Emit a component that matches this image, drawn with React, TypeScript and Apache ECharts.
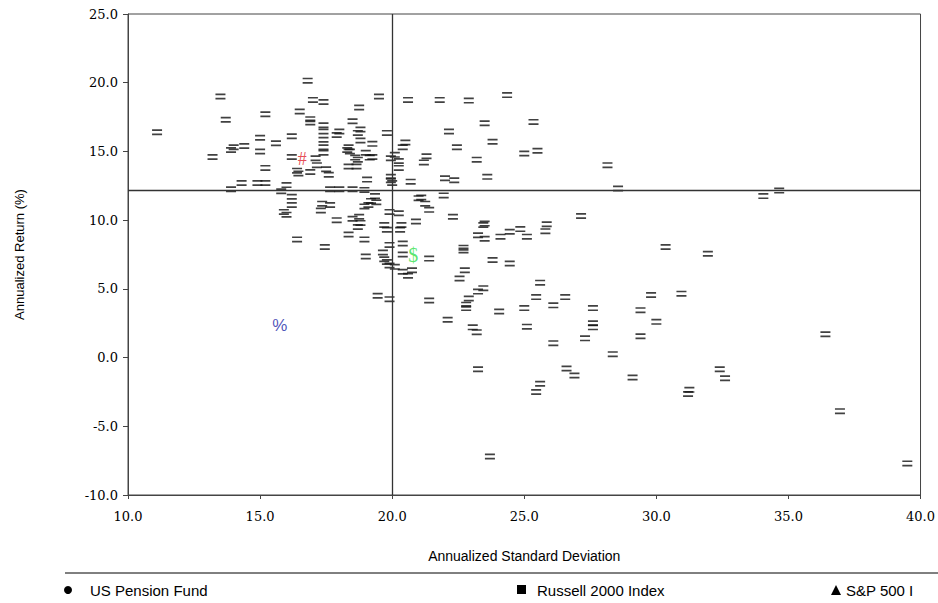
import React, { useEffect, useRef } from "react";
import * as echarts from "echarts";

// Peer universe: [annualized standard deviation, annualized return]
const peerLeft: [number, number][] = [
  [11.1, 16.4], [13.5, 19.0], [13.7, 17.3], [13.2, 14.6], [14.0, 15.3], [13.9, 15.1],
  [14.4, 15.4], [15.2, 17.7], [15.0, 16.0], [15.0, 15.0], [15.6, 15.6], [15.2, 13.8],
  [14.3, 12.7], [13.9, 12.25], [14.9, 12.7], [15.2, 12.7], [16.2, 16.1], [16.2, 14.6],
  [16.4, 13.6], [16.5, 17.9], [15.8, 12.1], [16.0, 12.55], [16.2, 11.7], [16.2, 11.1],
  [15.9, 10.6], [16.0, 10.4], [16.4, 8.6], [17.45, 8.05],
];

const peerCenter: [number, number][] = [
  [16.8, 20.15], [17.0, 18.75], [17.4, 18.6], [16.9, 17.35], [16.9, 17.1], [17.4, 16.9],
  [17.4, 16.45], [18.0, 16.45], [17.9, 16.2], [17.4, 15.85], [17.4, 15.3], [17.4, 14.9],
  [17.1, 14.5], [17.15, 14.0], [17.5, 13.7], [17.6, 13.3], [16.9, 13.5], [16.45, 13.4],
  [18.75, 18.2], [18.5, 17.2], [18.8, 16.6], [18.7, 16.35], [19.8, 16.35], [19.5, 19.0],
  [20.6, 18.75], [21.8, 18.75], [22.9, 18.7], [22.15, 16.45], [22.45, 15.3], [20.5, 15.65],
  [20.4, 15.3], [21.3, 14.65], [21.2, 14.2], [18.8, 15.8], [19.25, 15.55], [18.35, 15.3],
  [18.4, 15.0], [19.0, 14.9], [19.15, 14.55], [18.7, 14.4], [18.35, 13.9], [18.65, 13.9],
  [20.1, 14.75], [20.25, 14.3], [20.25, 13.8], [19.95, 13.15], [20.0, 12.7], [20.7, 12.8],
  [22.0, 13.05], [22.35, 12.9], [19.05, 12.95], [17.65, 12.25], [18.0, 12.25], [18.5, 12.25],
  [18.95, 12.2], [19.35, 11.75], [21.1, 11.65], [21.95, 11.8], [19.95, 14.5], [19.95, 12.9],
  [18.6, 14.55], [19.25, 14.6], [18.3, 15.1],
];

const peerBelow: [number, number][] = [
  [17.35, 11.2], [17.65, 11.1], [17.3, 10.7], [17.9, 10.0], [18.75, 10.25], [18.7, 9.5],
  [18.35, 8.95], [18.95, 8.6], [19.0, 7.35], [19.45, 4.5], [19.9, 4.25], [21.0, 11.6],
  [21.25, 11.2], [21.4, 10.75], [20.9, 9.9], [22.3, 10.25], [19.1, 11.1], [19.2, 11.4],
  [19.4, 11.3], [19.9, 10.6], [20.25, 10.5], [19.7, 9.65], [19.8, 9.3], [20.35, 9.65],
  [20.3, 9.3], [19.9, 8.2], [20.4, 8.3], [19.65, 7.65], [19.7, 7.15], [20.4, 7.5],
  [19.8, 6.95], [19.9, 6.7], [20.1, 6.6], [20.4, 6.25], [20.6, 5.95], [20.75, 6.35],
  [21.4, 7.2], [22.7, 8.0], [22.7, 7.8], [22.75, 6.35], [22.55, 5.75], [21.4, 4.15],
  [22.1, 2.75], [23.05, 2.2], [23.2, 1.85], [23.45, 9.65], [23.45, 5.05], [23.25, 4.8],
  [22.9, 4.3], [22.8, 3.85], [22.8, 3.6], [23.8, 7.1], [24.1, 8.8], [18.5, 10.1],
  [18.8, 9.8], [18.95, 11.0],
];

const peerRight: [number, number][] = [
  [24.35, 19.1], [23.5, 17.05], [25.35, 17.15], [23.8, 15.7], [23.2, 14.4], [25.0, 14.85],
  [25.5, 15.05], [23.6, 13.15], [28.15, 14.0], [28.55, 12.3], [34.05, 11.75], [34.65, 12.15],
  [23.5, 9.75], [23.25, 8.9], [23.5, 8.65], [24.45, 9.15], [24.85, 9.35], [25.1, 8.8],
  [25.85, 9.7], [25.8, 9.2], [27.15, 10.3], [30.35, 8.05], [31.95, 7.55], [24.45, 6.85],
  [25.6, 5.45], [25.45, 4.4], [26.55, 4.4], [29.8, 4.55], [30.95, 4.65], [26.1, 3.8],
  [24.05, 3.35], [25.0, 3.6], [25.1, 2.25], [27.6, 3.6], [27.6, 2.5], [27.6, 2.2],
  [26.1, 1.05], [27.3, 1.4], [28.35, 0.25], [29.4, 3.45], [30.0, 2.6], [29.4, 1.55],
  [23.25, -0.85], [26.6, -0.8], [26.9, -1.3], [25.6, -1.9], [25.45, -2.5], [29.1, -1.45],
  [32.4, -0.85], [32.6, -1.5], [31.25, -2.35], [31.2, -2.65], [36.4, 1.7], [36.95, -3.9],
  [23.7, -7.2], [39.5, -7.7],
];

const pensionFund: [number, number][] = [[16.6, 14.45]];
const russell2000: [number, number][] = [[20.8, 7.45]];
const sp500: [number, number][] = [[15.75, 2.35]];

const meanStdDev = [20.0];
const meanReturn = [12.2];

const legendNames = ["US Pension Fund", "Russell 2000 Index", "S&P 500 Index"];

const EQ_PATH = "path://M0,0H10V1.7H0Z M0,4.3H10V6H0Z";

export default function App() {
  const ref = useRef<HTMLDivElement>(null);

  useEffect(() => {
    if (!ref.current) return;
    const chart = echarts.init(ref.current, undefined, { renderer: "svg" });
    const peers = [...peerLeft, ...peerCenter, ...peerBelow, ...peerRight];
    const tickFont = { fontFamily: "DejaVu Serif", fontSize: 13, color: "#000" };
    const legendFont = { fontFamily: "Liberation Sans", fontSize: 15, fill: "#000", verticalAlign: "middle" };
    const glyphSeries = (data: [number, number][], glyph: string, color: string, size: number, family: string) => ({
      type: "scatter",
      data,
      symbolSize: 1,
      itemStyle: { color: "rgba(0,0,0,0)" },
      z: 5,
      label: {
        show: true,
        position: "inside",
        formatter: glyph,
        color,
        fontSize: size,
        fontFamily: family,
      },
    });

    chart.setOption({
      animation: false,
      backgroundColor: "#fff",
      grid: {
        left: 128,
        right: 17,
        top: 14,
        bottom: 108,
        show: true,
        borderColor: "#444",
        borderWidth: 1,
        backgroundColor: "transparent",
      },
      xAxis: {
        type: "value",
        min: 10,
        max: 40,
        interval: 5,
        name: "Annualized Standard Deviation",
        nameLocation: "middle",
        nameGap: 54,
        nameTextStyle: { fontFamily: "Liberation Sans", fontSize: 14, color: "#000" },
        axisLine: { show: true, onZero: false, lineStyle: { color: "#444" } },
        axisTick: { show: true, length: 4, lineStyle: { color: "#444" } },
        axisLabel: { ...tickFont, margin: 15, formatter: (v: number) => v.toFixed(1) },
        splitLine: { show: false },
      },
      yAxis: {
        type: "value",
        min: -10,
        max: 25,
        interval: 5,
        name: "Annualized Return (%)",
        nameLocation: "middle",
        nameGap: 102,
        nameTextStyle: { fontFamily: "Liberation Sans", fontSize: 13, color: "#000" },
        axisLine: { show: true, onZero: false, lineStyle: { color: "#444" } },
        axisTick: { show: true, length: 5, lineStyle: { color: "#444" } },
        axisLabel: { ...tickFont, margin: 10, formatter: (v: number) => v.toFixed(1) },
        splitLine: { show: false },
      },
      series: [
        {
          type: "scatter",
          data: peers,
          symbol: EQ_PATH,
          symbolSize: [10, 6],
          itemStyle: { color: "#111" },
          z: 3,
          markLine: {
            silent: true,
            symbol: ["none", "none"],
            label: { show: false },
            lineStyle: { color: "#333", width: 1.3, type: "solid" },
            data: [{ xAxis: meanStdDev[0] }, { yAxis: meanReturn[0] }],
          },
        },
        glyphSeries(pensionFund, "#", "#e0202a", 18, "Liberation Serif"),
        glyphSeries(russell2000, "$", "#2ee04a", 20, "Liberation Serif"),
        glyphSeries(sp500, "%", "#1c2aa8", 17, "Liberation Sans"),
      ],
      graphic: [
        { type: "line", shape: { x1: 65, y1: 573, x2: 938, y2: 573 }, style: { stroke: "#000", lineWidth: 1 } },
        { type: "circle", shape: { cx: 68, cy: 590, r: 4 }, style: { fill: "#000" } },
        { type: "text", x: 90, y: 590, style: { ...legendFont, text: legendNames[0] } },
        { type: "rect", shape: { x: 517, y: 585, width: 9, height: 9 }, style: { fill: "#000" } },
        { type: "text", x: 537, y: 590, style: { ...legendFont, text: legendNames[1] } },
        { type: "polygon", shape: { points: [[836, 585], [841, 595], [831, 595]] }, style: { fill: "#000" } },
        {
          type: "text",
          x: 846,
          y: 590,
          style: {
            ...legendFont,
            text: legendNames[2],
            width: 74,
            overflow: "truncate",
            ellipsis: "",
          },
        },
      ],
    });
    return () => chart.dispose();
  }, []);

  return (
    <div
      ref={ref}
      style={{ position: "absolute", left: 0, top: 0, width: 938, height: 603 }}
    />
  );
}
